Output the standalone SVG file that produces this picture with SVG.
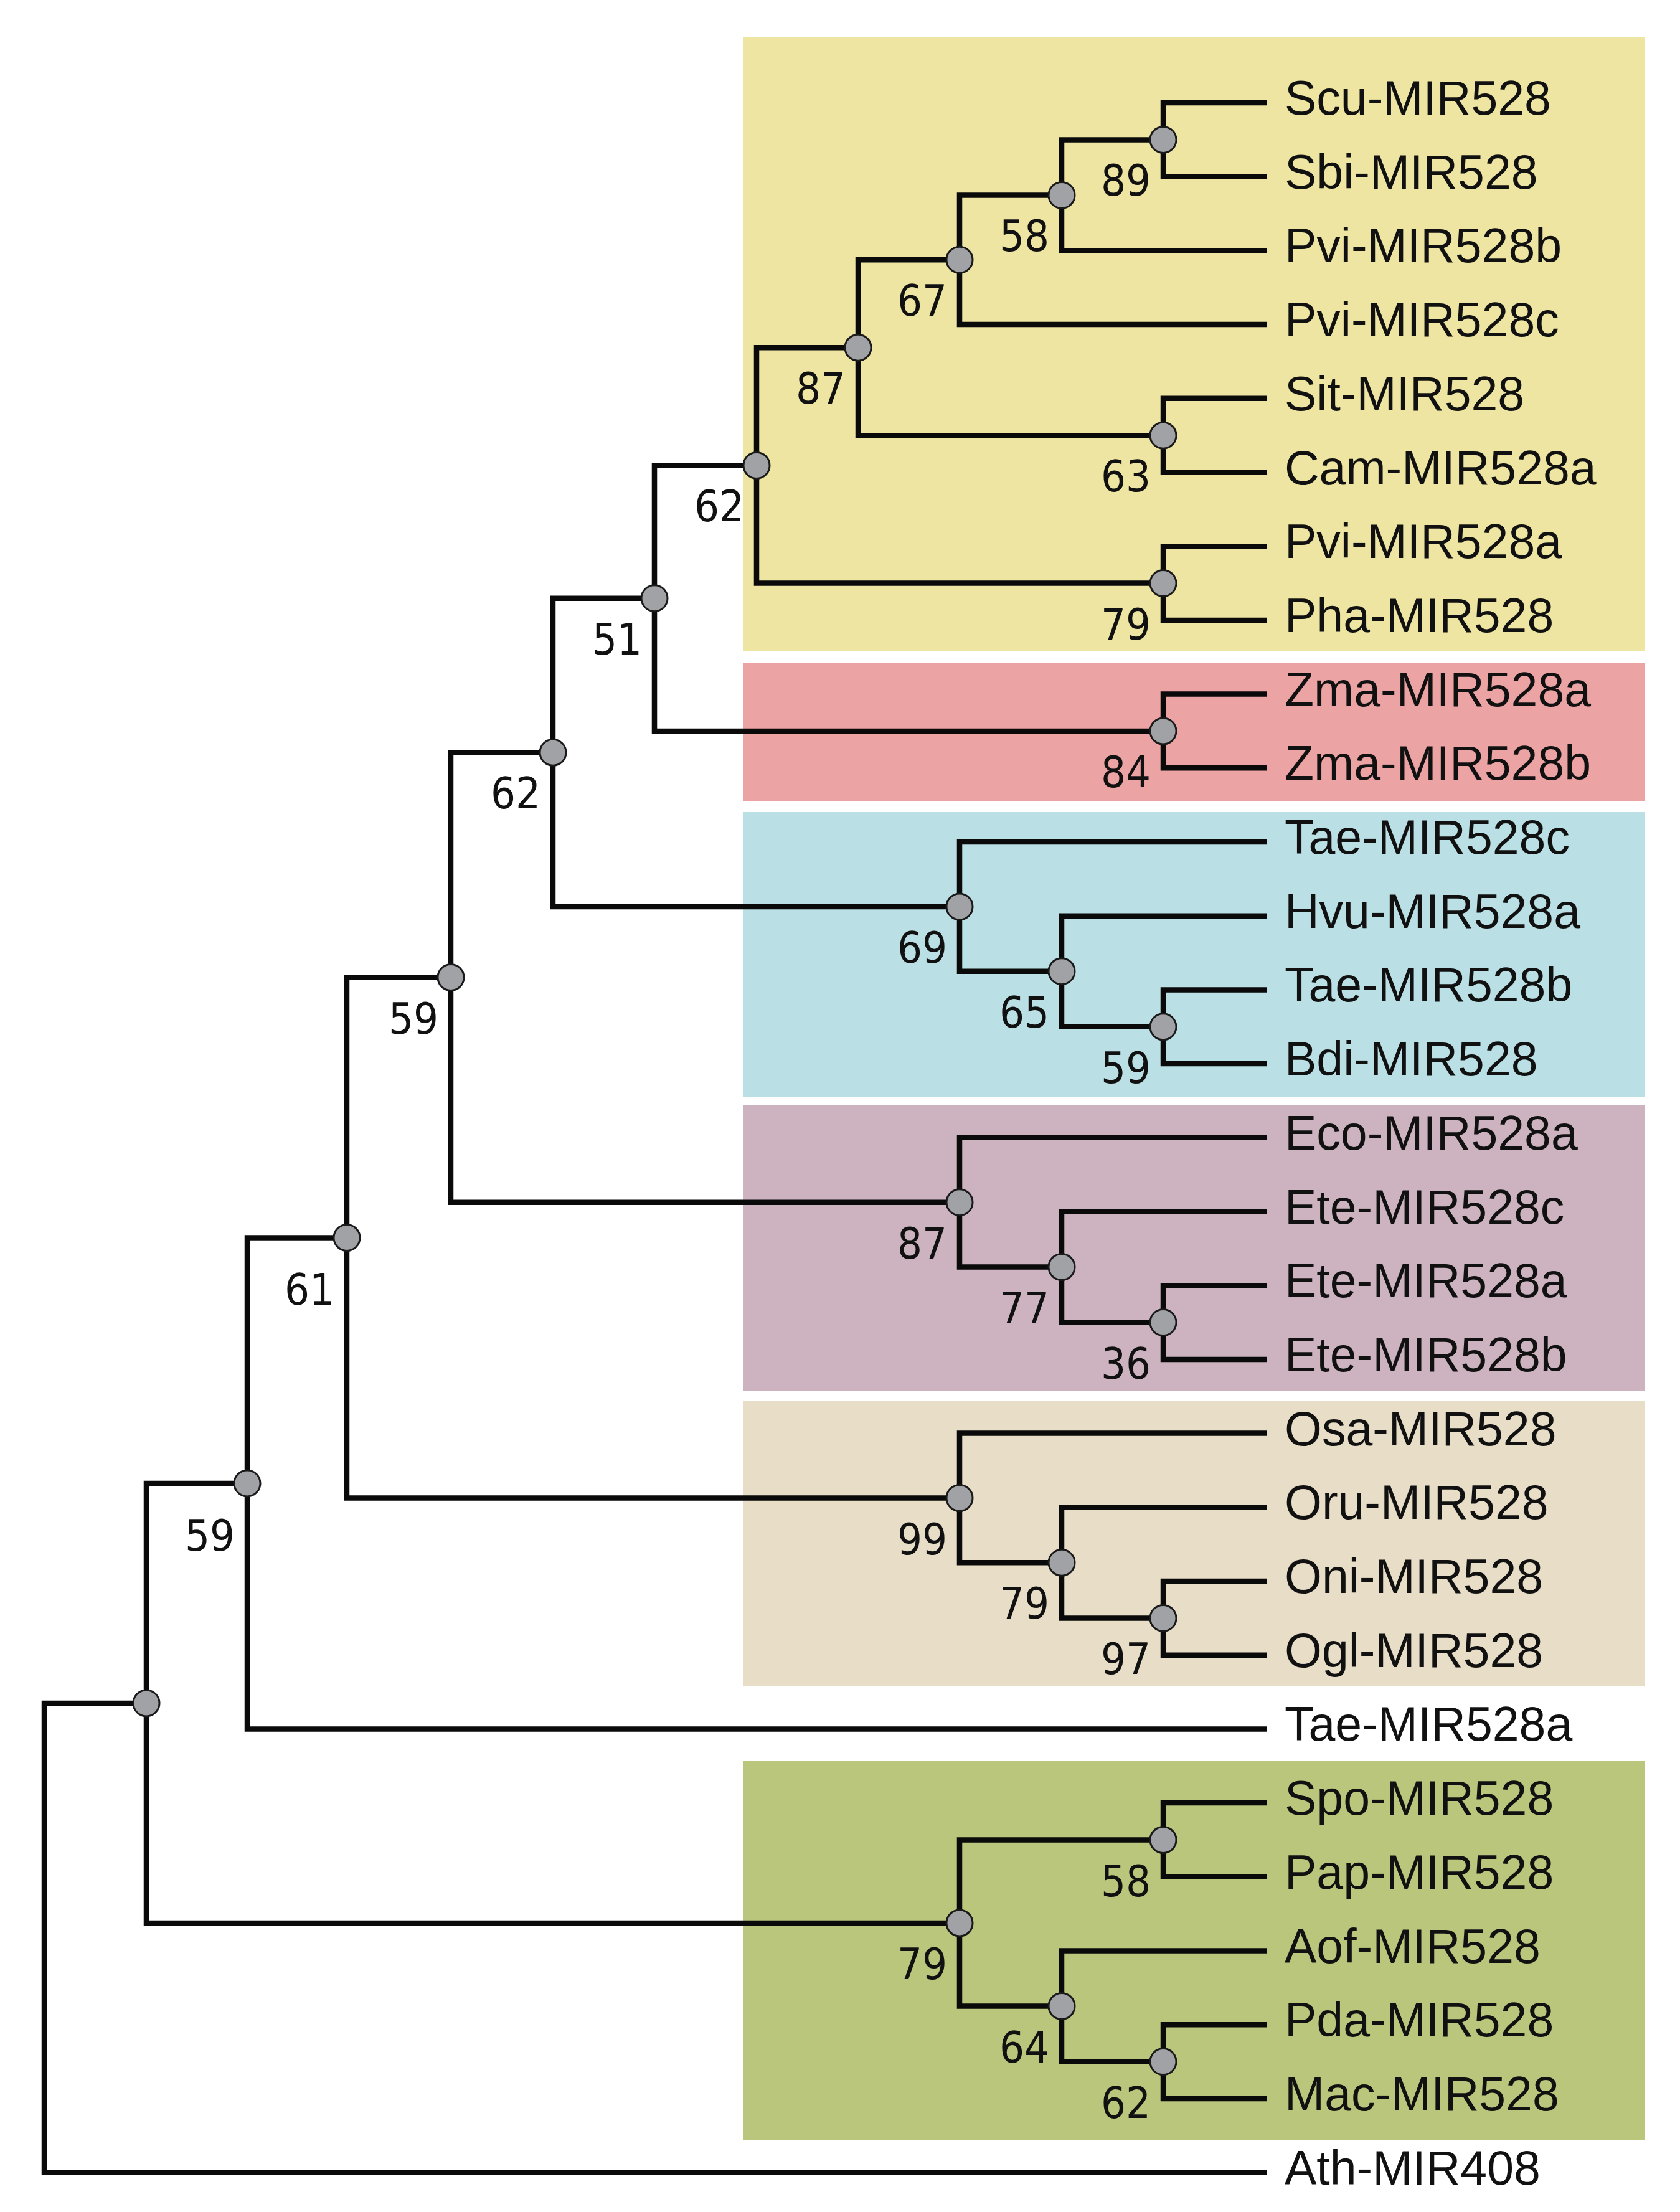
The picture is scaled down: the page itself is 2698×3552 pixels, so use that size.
<svg xmlns="http://www.w3.org/2000/svg" width="2698" height="3552" viewBox="0 0 2698 3552">
<style>
.edge{fill:none;stroke:#0a0a0a;stroke-width:8.5;stroke-linejoin:miter;stroke-linecap:butt}
.nd{fill:#a1a2a6;stroke:#1a1a1a;stroke-width:3}
.bs{font-family:"DejaVu Sans Condensed","DejaVu Sans",sans-serif;font-stretch:condensed;font-size:70px;fill:#111;text-anchor:end}
.leaf{font-family:"Liberation Sans",Arial,sans-serif;font-size:77px;fill:#111}
</style>
<rect width="2698" height="3552" fill="#ffffff"/>
<g id="clades">
<rect id="clade-yellow" x="1193" y="59" width="1449" height="986" fill="#eee5a2"/>
<rect id="clade-red" x="1193" y="1064" width="1449" height="223" fill="#eca3a4"/>
<rect id="clade-blue" x="1193" y="1304" width="1449" height="458" fill="#bae0e5"/>
<rect id="clade-purple" x="1193" y="1775" width="1449" height="458" fill="#cdb3bf"/>
<rect id="clade-beige" x="1193" y="2250" width="1449" height="458" fill="#e8ddc6"/>
<rect id="clade-green" x="1193" y="2827" width="1449" height="609" fill="#bac67b"/>
</g>
<g id="connectors" class="edge">
<path d="M235,2734.9 H71 V3488.6 H2035"/>
<path d="M235,2734.9 V2381.9 H397"/>
<path d="M235,2734.9 V3088 H1541"/>
<path d="M397,2381.9 V1987.5 H557"/>
<path d="M397,2381.9 V2776.4 H2035"/>
<path d="M557,1987.5 V1569.5 H724"/>
<path d="M557,1987.5 V2405.5 H1541"/>
<path d="M724,1569.5 V1208.3 H888"/>
<path d="M724,1569.5 V1930.7 H1541"/>
<path d="M888,1208.3 V960.7 H1051"/>
<path d="M888,1208.3 V1455.9 H1541"/>
<path d="M1051,960.7 V747.4 H1215"/>
<path d="M1051,960.7 V1174 H1868"/>
<path d="M1215,747.4 V558.2 H1378"/>
<path d="M1215,747.4 V936.6 H1868"/>
<path d="M1378,558.2 V417.2 H1541"/>
<path d="M1378,558.2 V699.2 H1868"/>
<path d="M1541,417.2 V313.4 H1705"/>
<path d="M1541,417.2 V521.1 H2035"/>
<path d="M1705,313.4 V224.4 H1868"/>
<path d="M1705,313.4 V402.4 H2035"/>
<path d="M1868,224.4 V165 H2035"/>
<path d="M1868,224.4 V283.7 H2035"/>
<path d="M1868,699.2 V639.8 H2035"/>
<path d="M1868,699.2 V758.5 H2035"/>
<path d="M1868,936.6 V877.2 H2035"/>
<path d="M1868,936.6 V995.9 H2035"/>
<path d="M1868,1174 V1114.6 H2035"/>
<path d="M1868,1174 V1233.3 H2035"/>
<path d="M1541,1455.9 V1352 H2035"/>
<path d="M1541,1455.9 V1559.7 H1705"/>
<path d="M1705,1559.7 V1470.7 H2035"/>
<path d="M1705,1559.7 V1648.8 H1868"/>
<path d="M1868,1648.8 V1589.4 H2035"/>
<path d="M1868,1648.8 V1708.1 H2035"/>
<path d="M1541,1930.7 V1826.8 H2035"/>
<path d="M1541,1930.7 V2034.5 H1705"/>
<path d="M1705,2034.5 V1945.5 H2035"/>
<path d="M1705,2034.5 V2123.6 H1868"/>
<path d="M1868,2123.6 V2064.2 H2035"/>
<path d="M1868,2123.6 V2182.9 H2035"/>
<path d="M1541,2405.5 V2301.6 H2035"/>
<path d="M1541,2405.5 V2509.3 H1705"/>
<path d="M1705,2509.3 V2420.3 H2035"/>
<path d="M1705,2509.3 V2598.4 H1868"/>
<path d="M1868,2598.4 V2539 H2035"/>
<path d="M1868,2598.4 V2657.7 H2035"/>
<path d="M1541,3088 V2954.5 H1868"/>
<path d="M1541,3088 V3221.5 H1705"/>
<path d="M1868,2954.5 V2895.1 H2035"/>
<path d="M1868,2954.5 V3013.8 H2035"/>
<path d="M1705,3221.5 V3132.5 H2035"/>
<path d="M1705,3221.5 V3310.6 H1868"/>
<path d="M1868,3310.6 V3251.2 H2035"/>
<path d="M1868,3310.6 V3369.9 H2035"/>
</g>
<g id="internal-nodes">
<g id="n-B"><circle class="nd" cx="235" cy="2734.9" r="21"/></g>
<g id="n-C"><circle class="nd" cx="397" cy="2381.9" r="21"/><text class="bs" x="377" y="2490">59</text></g>
<g id="n-D"><circle class="nd" cx="557" cy="1987.5" r="21"/><text class="bs" x="537" y="2095">61</text></g>
<g id="n-E"><circle class="nd" cx="724" cy="1569.5" r="21"/><text class="bs" x="704" y="1659.5">59</text></g>
<g id="n-F"><circle class="nd" cx="888" cy="1208.3" r="21"/><text class="bs" x="868" y="1298.3">62</text></g>
<g id="n-H"><circle class="nd" cx="1051" cy="960.7" r="21"/><text class="bs" x="1031" y="1050.7">51</text></g>
<g id="n-Y62"><circle class="nd" cx="1215" cy="747.4" r="21"/><text class="bs" x="1195" y="837.4">62</text></g>
<g id="n-Y87"><circle class="nd" cx="1378" cy="558.2" r="21"/><text class="bs" x="1358" y="648.2">87</text></g>
<g id="n-Y67"><circle class="nd" cx="1541" cy="417.2" r="21"/><text class="bs" x="1521" y="507.2">67</text></g>
<g id="n-Y58"><circle class="nd" cx="1705" cy="313.4" r="21"/><text class="bs" x="1685" y="403.4">58</text></g>
<g id="n-Y89"><circle class="nd" cx="1868" cy="224.4" r="21"/><text class="bs" x="1848" y="314.4">89</text></g>
<g id="n-Y63"><circle class="nd" cx="1868" cy="699.2" r="21"/><text class="bs" x="1848" y="789.2">63</text></g>
<g id="n-Y79"><circle class="nd" cx="1868" cy="936.6" r="21"/><text class="bs" x="1848" y="1026.6">79</text></g>
<g id="n-Z84"><circle class="nd" cx="1868" cy="1174" r="21"/><text class="bs" x="1848" y="1264">84</text></g>
<g id="n-B69"><circle class="nd" cx="1541" cy="1455.9" r="21"/><text class="bs" x="1521" y="1545.9">69</text></g>
<g id="n-B65"><circle class="nd" cx="1705" cy="1559.7" r="21"/><text class="bs" x="1685" y="1649.7">65</text></g>
<g id="n-B59"><circle class="nd" cx="1868" cy="1648.8" r="21"/><text class="bs" x="1848" y="1738.8">59</text></g>
<g id="n-E87"><circle class="nd" cx="1541" cy="1930.7" r="21"/><text class="bs" x="1521" y="2020.7">87</text></g>
<g id="n-E77"><circle class="nd" cx="1705" cy="2034.5" r="21"/><text class="bs" x="1685" y="2124.5">77</text></g>
<g id="n-E36"><circle class="nd" cx="1868" cy="2123.6" r="21"/><text class="bs" x="1848" y="2213.6">36</text></g>
<g id="n-O99"><circle class="nd" cx="1541" cy="2405.5" r="21"/><text class="bs" x="1521" y="2495.5">99</text></g>
<g id="n-O79"><circle class="nd" cx="1705" cy="2509.3" r="21"/><text class="bs" x="1685" y="2599.3">79</text></g>
<g id="n-O97"><circle class="nd" cx="1868" cy="2598.4" r="21"/><text class="bs" x="1848" y="2688.4">97</text></g>
<g id="n-G79"><circle class="nd" cx="1541" cy="3088" r="21"/><text class="bs" x="1521" y="3178">79</text></g>
<g id="n-G58"><circle class="nd" cx="1868" cy="2954.5" r="21"/><text class="bs" x="1848" y="3044.5">58</text></g>
<g id="n-G64"><circle class="nd" cx="1705" cy="3221.5" r="21"/><text class="bs" x="1685" y="3311.5">64</text></g>
<g id="n-G62"><circle class="nd" cx="1868" cy="3310.6" r="21"/><text class="bs" x="1848" y="3400.6">62</text></g>
</g>
<g id="leaves" class="leaf">
<g id="leaf-Scu"><text x="2063" y="184">Scu-MIR528</text></g>
<g id="leaf-Sbi"><text x="2063" y="302.7">Sbi-MIR528</text></g>
<g id="leaf-Pvib"><text x="2063" y="421.4">Pvi-MIR528b</text></g>
<g id="leaf-Pvic"><text x="2063" y="540.1">Pvi-MIR528c</text></g>
<g id="leaf-Sit"><text x="2063" y="658.8">Sit-MIR528</text></g>
<g id="leaf-Cama"><text x="2063" y="777.5">Cam-MIR528a</text></g>
<g id="leaf-Pvia"><text x="2063" y="896.2">Pvi-MIR528a</text></g>
<g id="leaf-Pha"><text x="2063" y="1014.9">Pha-MIR528</text></g>
<g id="leaf-Zmaa"><text x="2063" y="1133.6">Zma-MIR528a</text></g>
<g id="leaf-Zmab"><text x="2063" y="1252.3">Zma-MIR528b</text></g>
<g id="leaf-Taec"><text x="2063" y="1371">Tae-MIR528c</text></g>
<g id="leaf-Hvua"><text x="2063" y="1489.7">Hvu-MIR528a</text></g>
<g id="leaf-Taeb"><text x="2063" y="1608.4">Tae-MIR528b</text></g>
<g id="leaf-Bdi"><text x="2063" y="1727.1">Bdi-MIR528</text></g>
<g id="leaf-Ecoa"><text x="2063" y="1845.8">Eco-MIR528a</text></g>
<g id="leaf-Etec"><text x="2063" y="1964.5">Ete-MIR528c</text></g>
<g id="leaf-Etea"><text x="2063" y="2083.2">Ete-MIR528a</text></g>
<g id="leaf-Eteb"><text x="2063" y="2201.9">Ete-MIR528b</text></g>
<g id="leaf-Osa"><text x="2063" y="2320.6">Osa-MIR528</text></g>
<g id="leaf-Oru"><text x="2063" y="2439.3">Oru-MIR528</text></g>
<g id="leaf-Oni"><text x="2063" y="2558">Oni-MIR528</text></g>
<g id="leaf-Ogl"><text x="2063" y="2676.7">Ogl-MIR528</text></g>
<g id="leaf-Taea"><text x="2063" y="2795.4">Tae-MIR528a</text></g>
<g id="leaf-Spo"><text x="2063" y="2914.1">Spo-MIR528</text></g>
<g id="leaf-Pap"><text x="2063" y="3032.8">Pap-MIR528</text></g>
<g id="leaf-Aof"><text x="2063" y="3151.5">Aof-MIR528</text></g>
<g id="leaf-Pda"><text x="2063" y="3270.2">Pda-MIR528</text></g>
<g id="leaf-Mac"><text x="2063" y="3388.9">Mac-MIR528</text></g>
<g id="leaf-Ath"><text x="2063" y="3507.6">Ath-MIR408</text></g>
</g>
</svg>
